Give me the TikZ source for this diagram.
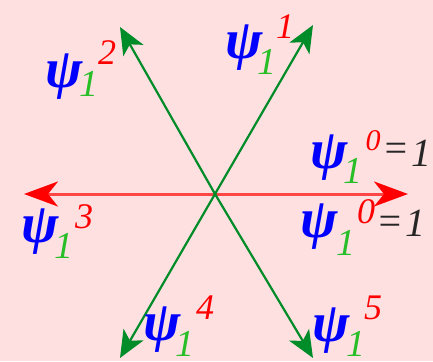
\documentclass[tikz,border=0pt]{standalone}
\usepackage{fontspec}
\setmainfont{Liberation Serif}
\usetikzlibrary{arrows.meta}
\definecolor{bg}{RGB}{255,224,224}
\definecolor{psiblue}{RGB}{0,0,255}
\definecolor{subgreen}{RGB}{40,190,40}
\definecolor{arrgreen}{RGB}{0,140,40}
\definecolor{supred}{RGB}{255,0,0}
\definecolor{arrred}{RGB}{255,70,70}
\begin{document}
\begin{tikzpicture}[x=1pt,y=-1pt,
  psi/.style={text=psiblue,font=\fontsize{56}{56}\selectfont\bfseries\itshape,inner sep=0pt},
  subn/.style={text=subgreen,font=\fontsize{38}{38}\selectfont\itshape,inner sep=0pt},
  supn/.style={text=supred,font=\fontsize{36}{36}\selectfont\itshape,inner sep=0pt},
  eqn/.style={text=black!85,font=\fontsize{40}{40}\selectfont\itshape,inner sep=0pt},
  garrow/.style={draw=arrgreen,line width=2.2pt,-{Stealth[length=27pt,width=23pt,inset=7pt]}},
  rarrow/.style={draw=arrred,line width=3pt,-{Stealth[length=34pt,width=25pt,inset=10pt,fill=red,color=red]}}]
\fill[bg] (0,0) rectangle (433,361);
\useasboundingbox (0,0) rectangle (433,361);
\node[text=black,font=\fontsize{30}{30}\selectfont,inner sep=0pt] (ast) at (15,-2) {*};
% arrows
\coordinate (o) at (215,194);
\coordinate (e0) at (408,194);
\coordinate (e1) at (313,25);
\coordinate (e2) at (120,27);
\coordinate (e3) at (24,194);
\coordinate (e4) at (120,358);
\coordinate (e5) at (313,358);
\draw[rarrow] (o) -- (e0);
\draw[rarrow] (o) -- (e3);
\draw[garrow] (o) -- (e1);
\draw[garrow] (o) -- (e2);
\draw[garrow] (o) -- (e4);
\draw[garrow] (o) -- (e5);
% labels
\node[psi] (p2) at (64,77) {ψ};
\node[subn] (s2) at (89,84) {1};
\node[supn] (u2) at (107,53) {2};
\node[psi] (p1) at (244,48) {ψ};
\node[subn] (s1) at (267,62) {1};
\node[supn] (u1) at (285,27) {1};
\node[psi] (p0) at (329,158) {ψ};
\node[subn] (s0) at (353,171) {1};
\node[supn,font=\fontsize{30}{30}\selectfont\itshape] (u0) at (373,141) {0};
\node[eqn] (q0) at (396,152) {=};
\node[eqn] (n0) at (421,153) {1};
\node[psi] (p6) at (319,227) {ψ};
\node[subn] (s6) at (346,243) {1};
\node[supn] (u6) at (366,212) {0};
\node[eqn] (q6) at (390,225) {=};
\node[eqn] (n6) at (415,223) {1};
\node[psi] (p3) at (40,232) {ψ};
\node[subn] (s3) at (64,246) {1};
\node[supn] (u3) at (84,217) {3};
\node[psi] (p4) at (162,330) {ψ};
\node[subn] (s4) at (185,344) {1};
\node[supn] (u4) at (205,308) {4};
\node[psi] (p5) at (331,331) {ψ};
\node[subn] (s5) at (356,344) {1};
\node[supn] (u5) at (373,308) {5};
\end{tikzpicture}
\end{document}
